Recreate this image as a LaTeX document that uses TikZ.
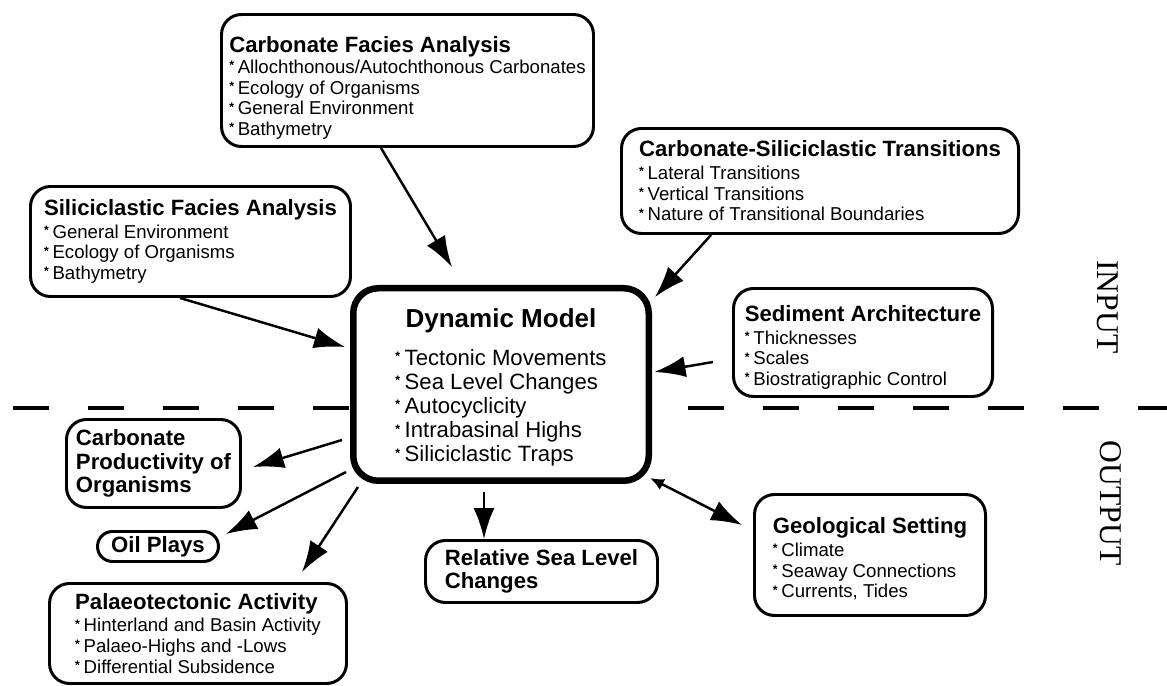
\documentclass[tikz,border=0pt]{standalone}
\usepackage{fontspec}
\setmainfont{Liberation Sans}
\newfontfamily\serfont{Liberation Serif}
\usetikzlibrary{arrows.meta,positioning,calc}

\newcommand{\bul}{\raisebox{0.2em}{\scriptsize\bfseries *}\hspace{0.2em}}
\newcommand{\hd}[1]{{\fontsize{12.6}{14}\selectfont\bfseries #1}}

\begin{document}
\begin{tikzpicture}[
	box/.style={draw, fill=white, line width=1.7pt, rounded corners=0.4cm, align=left, inner sep=0pt, font=\fontsize{10.6}{11.8}\selectfont},
	hbox/.style={box, font=\fontsize{12.6}{13.4}\selectfont\bfseries},
	arr/.style={-{Latex[length=0.62cm,width=0.42cm]}, line width=1.4pt},
	side/.style={rotate=-90, font=\serfont\fontsize{18}{18}\selectfont}
]
	\useasboundingbox (0,0) rectangle (23.34,-13.72);
	% input / output border
	\draw[line width=2.3pt, dash pattern=on 0.72cm off 0.78cm] (0.26,-8.16) -- (23.34,-8.16);
	\node[side] (inp) at (22.16,-6.14) {INPUT};
	\node[side] (outp) at (22.22,-10.06) {OUTPUT};

	% input boxes
	\node[box, minimum width=7.44cm, minimum height=2.64cm] (cfa) at (8.15,-1.61) {\rule{0pt}{0.62cm}\hd{Carbonate Facies Analysis}\\ \bul Allochthonous/Autochthonous Carbonates\\ \bul Ecology of Organisms\\ \bul General Environment\\ \bul Bathymetry};
	\node[box, minimum width=6.4cm, minimum height=2.2cm] (sfa) at (3.81,-4.83) {\hd{Siliciclastic Facies Analysis}\\[1pt] \bul General Environment\\ \bul Ecology of Organisms\\ \bul Bathymetry};
	\node[box, minimum width=7.94cm, minimum height=2.1cm] (cst) at (16.4,-3.62) {\hd{Carbonate-Siliciclastic Transitions}\\[1pt] \bul Lateral Transitions\\ \bul Vertical Transitions\\ \bul Nature of Transitional Boundaries};
	\node[box, minimum width=5.18cm, minimum height=2.16cm] (sa) at (17.26,-6.85) {\rule{0pt}{0.52cm}\hd{Sediment Architecture}\\[1pt] \bul Thicknesses\\ \bul Scales\\ \bul Biostratigraphic Control};

	% model
	\node[box, align=center, line width=3.7pt, rounded corners=0.5cm, minimum width=5.91cm, minimum height=3.85cm, font=\fontsize{12.6}{13.7}\selectfont] (dm) at (10.02,-7.69) {\rule{0pt}{0.54cm}{\fontsize{14.8}{16}\selectfont\bfseries Dynamic Model}\\[8pt]
		\begin{tabular}{@{}l@{}}
			\bul Tectonic Movements\\
			\bul Sea Level Changes\\
			\bul Autocyclicity\\
			\bul Intrabasinal Highs\\
			\bul Siliciclastic Traps
		\end{tabular}};

	% output boxes
	\node[hbox, minimum width=3.48cm, minimum height=1.76cm] (cpo) at (3.07,-9.27) {Carbonate\\Productivity of\\Organisms};
	\node[hbox, rounded corners=0.3cm, minimum width=2.42cm, minimum height=0.6cm] (oil) at (3.16,-10.93) {Oil Plays};
	\node[box, minimum width=5.94cm, minimum height=2.0cm] (pta) at (3.96,-12.67) {\hd{Palaeotectonic Activity}\\[1pt] \bul Hinterland and Basin Activity\\ \bul Palaeo-Highs and -Lows\\ \bul Differential Subsidence};
	\node[hbox, minimum width=4.64cm, minimum height=1.24cm] (rsl) at (10.83,-11.43) {Relative Sea Level\\Changes};
	\node[box, minimum width=4.62cm, minimum height=2.42cm] (geo) at (17.4,-11.1) {\rule{0pt}{0.48cm}\hd{Geological Setting}\\[1pt] \bul Climate\\ \bul Seaway Connections\\ \bul Currents, Tides};

	% arrows
	\draw[arr] ([xshift=-0.53cm]cfa.south) -- ([xshift=-0.98cm,yshift=0.36cm]dm.north);
	\draw[arr] ([xshift=-0.21cm]sfa.south) -- ([xshift=-0.1cm,yshift=0.75cm]dm.west);
	\draw[arr] ([xshift=-2.18cm]cst.south) -- ([xshift=0.06cm,yshift=-0.24cm]dm.north east);
	\draw[arr] ([xshift=-0.38cm,yshift=-0.39cm]sa.west) -- ([xshift=0.05cm,yshift=0.25cm]dm.east);
	\draw[arr] ([xshift=-0.16cm,yshift=-1.11cm]dm.west) -- ([xshift=0.22cm,yshift=-0.07cm]cpo.east);
	\draw[arr] ([xshift=-0.08cm,yshift=-1.75cm]dm.west) -- ([xshift=0.12cm,yshift=-0.08cm]oil.north east);
	\draw[arr] ([xshift=0.16cm,yshift=-0.06cm]dm.south west) -- ([xshift=2.08cm,yshift=0.2cm]pta.north);
	\coordinate (s) at ([xshift=-0.34cm,yshift=-0.16cm]dm.south);
	\draw[arr] (s) -- (s |- rsl.north);
	\draw[{Latex[length=0.28cm,width=0.24cm]}-{Latex[length=0.62cm,width=0.42cm]}, line width=1.4pt] ([xshift=-0.04cm,yshift=0.12cm]dm.south east) -- ([xshift=-0.22cm,yshift=0.6cm]geo.west);
\end{tikzpicture}
\end{document}
